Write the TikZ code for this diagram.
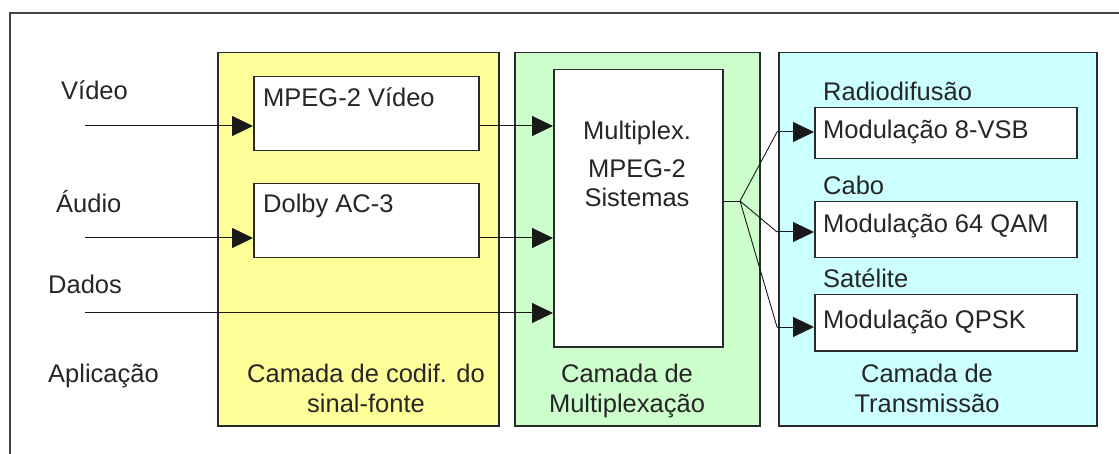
\documentclass[tikz,border=0pt]{standalone}
\usepackage{fontspec}
\setmainfont{Liberation Sans}
\usetikzlibrary{arrows.meta}
\definecolor{frame}{HTML}{444444}
\definecolor{edge}{HTML}{2A2A2A}
\definecolor{yel}{HTML}{FFFF99}
\definecolor{grn}{HTML}{CCFFCC}
\definecolor{cya}{HTML}{CCFFFF}
\tikzset{
  panel/.style={draw=edge, line width=1.5pt, anchor=north west, inner sep=0pt},
  box/.style={draw=edge, line width=1.5pt, fill=white, anchor=north west, inner sep=0pt},
  txt/.style={inner sep=0pt, text=black!85, font=\fontsize{25.5}{32}\selectfont},
  flow/.style={draw=black!90, line width=1pt, -{Triangle[length=21pt,width=20pt]}},
  wire/.style={draw=black!90, line width=0.9pt}
}
\begin{document}
\begin{tikzpicture}[x=1pt,y=-1pt]
\useasboundingbox (0,0) rectangle (1119,454);
\draw[frame, line width=1.8pt] (10,454) -- (10,13) -- (1119,13);
% panels
\node[panel, fill=yel, minimum width=281pt, minimum height=373pt] (pY) at (217,52) {};
\node[panel, fill=grn, minimum width=245pt, minimum height=373pt] (pG) at (514,52) {};
\node[panel, fill=cya, minimum width=318pt, minimum height=373pt] (pC) at (778,52) {};
% boxes
\node[box, minimum width=225pt, minimum height=74pt] (mv) at (253,76) {};
\node[box, minimum width=225pt, minimum height=74pt] (dol) at (253,183) {};
\node[box, minimum width=169pt, minimum height=277pt] (mux) at (553,69) {};
\node[box, minimum width=262pt, minimum height=51pt] (m1) at (814,107) {};
\node[box, minimum width=262pt, minimum height=56pt] (m2) at (814,201) {};
\node[box, minimum width=262pt, minimum height=56pt] (m3) at (814,294) {};
% texts
\node[txt, anchor=base west] (tvid) at (61,100) {Vídeo};
\node[txt, anchor=base west] (taud) at (56,213) {Áudio};
\node[txt, anchor=base west] (tdad) at (48,294) {Dados};
\node[txt, anchor=base west] (tapl) at (48,382) {Aplicação};
\node[txt, anchor=base west] (tmv) at (263,107) {MPEG-2 Vídeo};
\node[txt, anchor=base west] (tdol) at (263,213) {Dolby AC-3};
\node[txt, anchor=base] (tmux1) at (637,140) {Multiplex.};
\node[txt, anchor=base] (tmux2) at (637,178) {MPEG-2};
\node[txt, anchor=base] (tmux3) at (637,207) {Sistemas};
\node[txt, anchor=base west] (trad) at (823,101) {Radiodifusão};
\node[txt, anchor=base west] (tcab) at (823,195) {Cabo};
\node[txt, anchor=base west] (tsat) at (823,288) {Satélite};
\node[txt, anchor=base west] (tm1) at (823,139) {Modulação 8-VSB};
\node[txt, anchor=base west] (tm2) at (823,233) {Modulação 64 QAM};
\node[txt, anchor=base west] (tm3) at (823,328) {Modulação QPSK};
\node[txt, anchor=base] (ty1) at (366,382) {Camada de codif. do};
\node[txt, anchor=base] (ty2) at (366,412) {sinal-fonte};
\node[txt, anchor=base] (tg1) at (627,382) {Camada de};
\node[txt, anchor=base] (tg2) at (627,412) {Multiplexação};
\node[txt, anchor=base] (tc1) at (927,382) {Camada de};
\node[txt, anchor=base] (tc2) at (927,412) {Transmissão};
% coordinates
\coordinate (inV) at (85,126);
\coordinate (inA) at (85,238);
\coordinate (inD) at (85,313);
\coordinate (sp) at (740,201);
\coordinate (b1) at (777,132);
\coordinate (b2) at (777,232);
\coordinate (b3) at (777,327);
% arrows
\draw[flow] (inV) -- (inV -| mv.west);
\draw[flow] (inA) -- (inA -| dol.west);
\draw[flow] (inD) -- (inD -| mux.west);
\draw[flow] (inV -| mv.east) -- (inV -| mux.west);
\draw[flow] (inA -| dol.east) -- (inA -| mux.west);
\draw[wire] (sp -| mux.east) -- (sp);
\draw[wire] (sp) -- (b1);
\draw[wire] (sp) -- (b2);
\draw[wire] (sp) -- (b3);
\draw[flow] (b1) -- (b1 -| m1.west);
\draw[flow] (b2) -- (b2 -| m2.west);
\draw[flow] (b3) -- (b3 -| m3.west);
\end{tikzpicture}
\end{document}
